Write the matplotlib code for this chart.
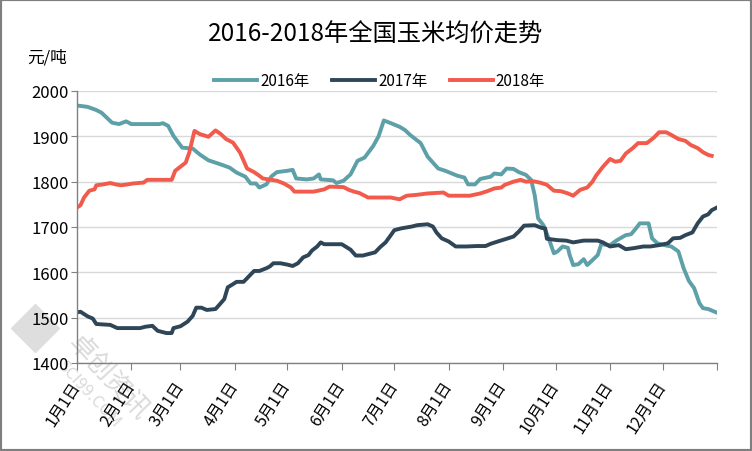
import matplotlib
matplotlib.use("Agg")
import matplotlib.pyplot as plt
from matplotlib.lines import Line2D
from matplotlib.patches import Rectangle

plt.rcParams["font.family"] = ["Noto Sans CJK SC", "DejaVu Sans"]

# day of year (0 = 1月1日) and average price, 元/吨
days_2016 = [0, 6, 11, 14, 20, 24, 28, 31, 36, 47, 49, 52, 55, 60, 66, 70, 75, 82, 87, 91,
             96, 99, 102, 104, 108, 111, 114, 120, 123, 125, 131, 135, 138, 139, 146, 148, 152, 156, 160, 164,
             169, 172, 175, 179, 184, 187, 190, 196, 200, 206, 210, 217, 221, 223, 227, 230, 236, 238, 242, 245,
             249, 252, 256, 259, 261, 263, 266, 269, 272, 274, 277, 280, 281, 283, 286, 289, 291, 294, 297, 299,
             304, 308, 313, 316, 318, 321, 326, 328, 331, 335, 339, 343, 346, 349, 352, 355, 357, 360, 365]
price_2016 = [1968, 1965, 1958, 1952, 1930, 1927, 1933, 1927, 1927, 1927, 1929, 1923, 1901, 1875, 1873, 1860, 1847, 1838, 1831, 1820,
              1811, 1796, 1796, 1787, 1794, 1812, 1821, 1824, 1826, 1807, 1805, 1807, 1816, 1805, 1803, 1797, 1802, 1816, 1846, 1853,
              1879, 1900, 1935, 1929, 1921, 1914, 1903, 1885, 1855, 1829, 1824, 1813, 1809, 1794, 1794, 1806, 1811, 1818, 1816, 1829,
              1828, 1821, 1815, 1804, 1771, 1719, 1704, 1675, 1642, 1646, 1657, 1654, 1638, 1616, 1618, 1629, 1616, 1627, 1638, 1662,
              1660, 1671, 1682, 1684, 1693, 1708, 1708, 1675, 1664, 1660, 1657, 1646, 1609, 1581, 1565, 1532, 1521, 1519, 1511]

days_2017 = [0, 2, 6, 9, 11, 19, 23, 36, 39, 43, 46, 51, 54, 55, 59, 63, 66, 68, 71, 74,
             79, 82, 84, 86, 89, 91, 95, 98, 101, 104, 108, 110, 112, 116, 120, 123, 126, 129, 132, 134,
             137, 139, 141, 146, 151, 156, 159, 163, 166, 170, 173, 176, 179, 181, 185, 191, 194, 200, 203, 205,
             208, 212, 216, 222, 228, 233, 236, 240, 245, 249, 252, 255, 261, 265, 267, 268, 274, 279, 283, 289,
             297, 300, 304, 309, 313, 317, 323, 327, 332, 337, 340, 344, 347, 351, 354, 357, 360, 362, 365]
price_2017 = [1512, 1513, 1503, 1498, 1486, 1484, 1477, 1477, 1480, 1482, 1471, 1466, 1466, 1477, 1481, 1491, 1504, 1522, 1522, 1517,
              1519, 1532, 1541, 1567, 1574, 1579, 1579, 1591, 1603, 1603, 1609, 1613, 1620, 1620, 1617, 1614, 1620, 1633, 1638, 1648,
              1657, 1666, 1662, 1662, 1662, 1650, 1637, 1637, 1640, 1644, 1656, 1666, 1682, 1693, 1697, 1701, 1704, 1706, 1701, 1688,
              1675, 1668, 1657, 1657, 1658, 1658, 1663, 1668, 1674, 1679, 1690, 1703, 1704, 1698, 1697, 1674, 1671, 1670, 1666, 1670,
              1670, 1666, 1657, 1660, 1651, 1653, 1657, 1657, 1660, 1664, 1675, 1676, 1682, 1688, 1708, 1723, 1728, 1737, 1743]

days_2018 = [0, 2, 4, 7, 10, 11, 15, 19, 22, 25, 29, 32, 38, 40, 54, 56, 59, 62, 64, 67,
             70, 75, 79, 82, 85, 89, 93, 97, 101, 104, 106, 114, 118, 122, 124, 135, 141, 144, 152, 155,
             158, 161, 166, 173, 179, 184, 188, 194, 200, 209, 212, 219, 224, 230, 234, 238, 242, 244, 249, 253,
             256, 260, 264, 268, 272, 276, 280, 283, 287, 291, 294, 296, 300, 304, 307, 310, 313, 317, 320, 325,
             329, 332, 336, 339, 343, 347, 350, 354, 357, 360, 362]
price_2018 = [1743, 1748, 1765, 1780, 1783, 1792, 1794, 1797, 1794, 1792, 1794, 1796, 1798, 1804, 1804, 1824, 1833, 1842, 1864, 1912,
              1905, 1899, 1913, 1905, 1894, 1886, 1864, 1829, 1821, 1813, 1807, 1802, 1796, 1787, 1778, 1778, 1783, 1789, 1788, 1782,
              1778, 1775, 1765, 1765, 1765, 1761, 1769, 1771, 1774, 1776, 1769, 1769, 1769, 1774, 1779, 1785, 1787, 1793, 1800, 1804,
              1800, 1801, 1798, 1793, 1780, 1779, 1774, 1769, 1782, 1787, 1800, 1813, 1833, 1850, 1844, 1846, 1862, 1874, 1885, 1885,
              1897, 1909, 1909, 1903, 1894, 1890, 1881, 1874, 1865, 1859, 1857]

month_starts = [0, 31, 59, 90, 120, 151, 181, 212, 243, 273, 304, 334, 365]
month_labels = [f"{m}月1日" for m in range(1, 13)] + [""]
yticks = [1400, 1500, 1600, 1700, 1800, 1900, 2000]

C16, C17, C18 = "#5DA0A8", "#2E4657", "#F25A4C"

fig = plt.figure(figsize=(7.52, 4.52), dpi=100)
ax = fig.add_axes([0.1024, 0.1947, 0.851, 0.6018])
ax.patch.set_alpha(0)

ax.plot(days_2016, price_2016, color=C16, lw=2.8, label="2016年", solid_joinstyle="round")
ax.plot(days_2017, price_2017, color=C17, lw=2.8, label="2017年", solid_joinstyle="round")
ax.plot(days_2018, price_2018, color=C18, lw=2.8, label="2018年", solid_joinstyle="round")

ax.set_xlim(0, 365)
ax.set_ylim(1400, 2000)
ax.set_yticks(yticks)
ax.set_xticks(month_starts)
ax.set_xticklabels(month_labels, rotation=57, ha="right", va="center",
                   rotation_mode="anchor", fontsize=11.5)
ax.tick_params(axis="x", length=5, color="#808080", pad=9)
ax.tick_params(axis="y", length=4, color="#808080", labelsize=12, pad=2)
ax.grid(axis="y", color="#D9D9D9", lw=1)
ax.set_axisbelow(True)
for s in ["top", "right"]:
    ax.spines[s].set_visible(False)
for s in ["left", "bottom"]:
    ax.spines[s].set_color("#808080")
    ax.spines[s].set_linewidth(1)

fig.text(0.5, 0.923, "2016-2018年全国玉米均价走势", ha="center", va="center", fontsize=17.5)
fig.text(0.062, 0.872, "元/吨", ha="center", va="center", fontsize=12)
fig.legend(loc="center", bbox_to_anchor=(0.505, 0.819), ncol=3, frameon=False,
           fontsize=11, handlelength=2.8, handletextpad=0.2, columnspacing=1.5)

# watermark, behind the axes
wm = "#DADADA"
fig.add_artist(Line2D([0.047], [0.272], marker="D", ms=24, color="#DEDEDE",
                      transform=fig.transFigure, zorder=-2))
fig.text(0.144, 0.164, "卓创资讯", rotation=-47, ha="center", va="center",
         fontsize=19, color=wm, zorder=-2)
fig.text(0.118, 0.128, "SCI99.COM", rotation=-47, ha="center", va="center",
         fontsize=12, color=wm, zorder=-2)

fig.add_artist(Rectangle((0, 0), 1, 1, transform=fig.transFigure, fill=False,
                         ec="#7F7F7F", lw=3))

fig.savefig("out.png", dpi=100)
